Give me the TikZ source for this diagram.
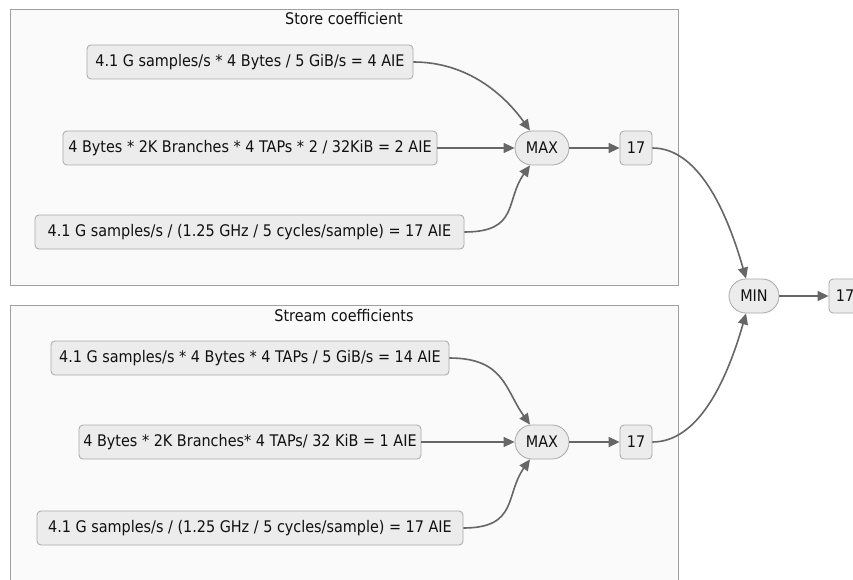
\documentclass[tikz,border=0pt]{standalone}
\usepackage{fontspec}
\setmainfont{DejaVu Sans Condensed}
\usetikzlibrary{arrows.meta}
\definecolor{clusterfill}{HTML}{FAFAFA}
\definecolor{clusterline}{HTML}{A0A0A0}
\definecolor{boxfill}{HTML}{ECECEC}
\definecolor{boxline}{HTML}{A8A8A8}
\definecolor{wire}{HTML}{666666}
\definecolor{ink}{HTML}{111111}

\begin{document}
\begin{tikzpicture}[x=1pt,y=-1pt,
  every node/.style={font=\fontsize{16}{19}\selectfont, text=ink},
  calc/.style={draw=boxline, fill=boxfill, rounded corners=4pt, minimum height=34pt, inner sep=0pt, line width=0.8pt},
  op/.style={draw=boxline, fill=boxfill, rounded corners=17pt, minimum height=34pt, minimum width=54pt, inner sep=0pt, line width=0.8pt},
  flow/.style={draw=wire, line width=1.6pt, -{Triangle[length=11pt,width=10pt]}},
  cluster/.style={draw=clusterline, fill=clusterfill, line width=0.8pt}]

\useasboundingbox (0,0) rectangle (853,580);
\clip (0,0) rectangle (853,580);
\fill[white] (0,0) rectangle (853,580);

% groups
\draw[cluster] (10,9) rectangle (678,285);
\draw[cluster] (10,305) rectangle (678,600);
\node (t1) at (344,19) {Store coefficient};
\node (t2) at (344,316) {Stream coefficients};

% store coefficient
\node[calc, minimum width=326pt] (a1) at (250,62) {4.1 G samples/s * 4 Bytes / 5 GiB/s = 4 AIE};
\node[calc, minimum width=374pt] (a2) at (250,148) {4 Bytes * 2K Branches * 4 TAPs * 2 / 32KiB = 2 AIE};
\node[calc, minimum width=429pt] (a3) at (249.5,232) {4.1 G samples/s / (1.25 GHz / 5 cycles/sample) = 17 AIE};
\node[op] (max1) at (542,148) {MAX};
\node[calc, minimum width=32pt] (r1) at (636,148) {17};

% stream coefficients
\node[calc, minimum width=398pt] (b1) at (250,358) {4.1 G samples/s * 4 Bytes * 4 TAPs / 5 GiB/s = 14 AIE};
\node[calc, minimum width=342pt] (b2) at (250,442) {4 Bytes * 2K Branches* 4 TAPs/ 32 KiB = 1 AIE};
\node[calc, minimum width=426pt] (b3) at (250,528) {4.1 G samples/s / (1.25 GHz / 5 cycles/sample) = 17 AIE};
\node[op] (max2) at (542,442) {MAX};
\node[calc, minimum width=32pt] (r2) at (636,442) {17};

% result
\node[op, minimum width=50pt] (min) at (754,296) {MIN};
\node[calc, minimum width=32pt] (res) at (845,296) {17};

% connectors
\draw[flow] (a1.east) .. controls +(55,0) and +(-25,-35) .. ([xshift=-12pt]max1.north);
\draw[flow] (a2) -- (max1);
\draw[flow] (a3.east) .. controls +(55,0) and +(-25,35) .. ([xshift=-12pt]max1.south);
\draw[flow] (max1) -- (r1);

\draw[flow] (b1.east) .. controls +(55,0) and +(-25,-35) .. ([xshift=-12pt]max2.north);
\draw[flow] (b2) -- (max2);
\draw[flow] (b3.east) .. controls +(55,0) and +(-25,35) .. ([xshift=-12pt]max2.south);
\draw[flow] (max2) -- (r2);

\draw[flow] (r1.east) .. controls +(45,0) and +(-20,-70) .. ([xshift=-8pt]min.north);
\draw[flow] (r2.east) .. controls +(45,0) and +(-20,70) .. ([xshift=-8pt]min.south);
\draw[flow] (min) -- (res);
\end{tikzpicture}
\end{document}
